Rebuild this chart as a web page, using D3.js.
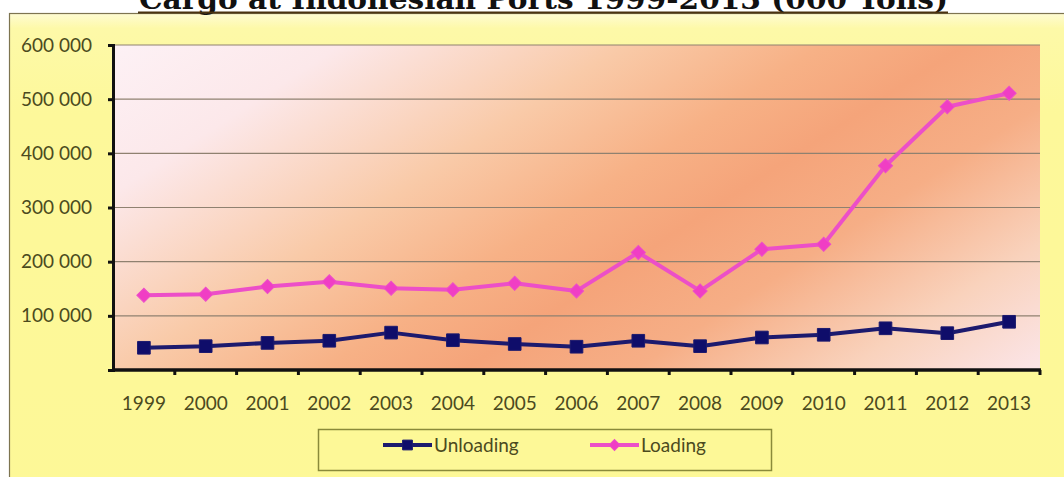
<!DOCTYPE html>
<html>
<head>
<meta charset="utf-8">
<script src="https://cdn.jsdelivr.net/npm/d3@7/dist/d3.min.js"></script>
<style>
  html, body { margin: 0; padding: 0; background: #ffffff; }
  svg { display: block; }
</style>
</head>
<body>
<svg id="chart" width="1064" height="477"></svg>
<script>
// Cargo handled at Indonesian ports, thousand tons
const years = ["1999","2000","2001","2002","2003","2004","2005","2006","2007","2008","2009","2010","2011","2012","2013"];
const unloading = [41000, 44000, 50000, 54000, 69000, 55000, 48000, 43000, 54000, 44000, 60000, 65000, 77000, 68000, 89000];
const loading   = [138000, 140000, 154000, 163000, 151000, 148000, 160000, 146000, 217000, 146000, 223000, 232000, 377000, 486000, 511000];
const yTicks = [0, 100000, 200000, 300000, 400000, 500000, 600000];
const seriesNames = ["Unloading", "Loading"];
const titleText = "Cargo at Indonesian Ports 1999-2013 (000 Tons)";

const svg = d3.select("#chart");
const defs = svg.append("defs");

// chart frame fill: pale yellow, lighter at the top edge
const frameGrad = defs.append("linearGradient").attr("id", "frameFill")
  .attr("x1", 0).attr("y1", 0).attr("x2", 0).attr("y2", 1);
[[0, "#fefbd2"], [0.03, "#fdf9a8"], [0.2, "#fdf89a"], [1, "#fdf897"]].forEach(([o, c]) =>
  frameGrad.append("stop").attr("offset", o).attr("stop-color", c));

const plot = { left: 113, right: 1040, top: 45, bottom: 370 };

// plot area fill: diagonal band of orange between pale pink corners
const bandX = 450, bandY = 370;
const ux = 324 / 596, uy = 500 / 596;
const plotGrad = defs.append("linearGradient").attr("id", "plotFill")
  .attr("gradientUnits", "userSpaceOnUse")
  .attr("x1", bandX - 455 * ux).attr("y1", bandY - 455 * uy)
  .attr("x2", bandX + 315 * ux).attr("y2", bandY + 315 * uy);
[[0, "#fdf1f5"], [0.16, "#fce8ea"], [0.36, "#f9caa8"], [0.5, "#f7b186"], [0.6, "#f5a47a"],
 [0.72, "#f6ae86"], [0.87, "#f9d2bc"], [1, "#fbe4e6"]].forEach(([o, c]) =>
  plotGrad.append("stop").attr("offset", o).attr("stop-color", c));

// outer chart frame
svg.append("rect")
  .attr("x", 9.5).attr("y", 13.5).attr("width", 1100).attr("height", 500)
  .attr("fill", "url(#frameFill)")
  .attr("stroke", "#7d7450").attr("stroke-width", 1.2);

// title with underline
svg.append("text")
  .attr("x", 139).attr("y", 9)
  .attr("textLength", 809).attr("lengthAdjust", "spacingAndGlyphs")
  .attr("font-family", "DejaVu Serif, serif")
  .attr("font-weight", "bold")
  .attr("font-size", 27)
  .attr("fill", "#111")
  .text(titleText);
svg.append("line")
  .attr("x1", 138).attr("x2", 948).attr("y1", 12.5).attr("y2", 12.5)
  .attr("stroke", "#4a3210").attr("stroke-width", 2);

// scales
const x = d3.scaleBand().domain(years).range([plot.left, plot.right]).padding(0);
const y = d3.scaleLinear().domain([0, 600000]).range([plot.bottom, plot.top]);
const cx = d => x(d) + x.bandwidth() / 2;

// plot background
svg.append("rect")
  .attr("x", plot.left).attr("y", plot.top)
  .attr("width", plot.right - plot.left).attr("height", plot.bottom - plot.top)
  .attr("fill", "url(#plotFill)");

// horizontal gridlines
svg.append("g")
  .selectAll("line")
  .data(yTicks.filter(v => v > 0))
  .join("line")
  .attr("x1", plot.left).attr("x2", plot.right)
  .attr("y1", d => y(d)).attr("y2", d => y(d))
  .attr("stroke", "#8f8170").attr("stroke-width", 1.2);

const labelFont = "Lato, 'Open Sans', sans-serif";
const labelColor = "#4b4a1e";

// y axis (zero is left unlabelled)
const yAxis = d3.axisLeft(y).tickValues(yTicks)
  .tickFormat(d => d === 0 ? "" : d3.format(",")(d).replace(/,/g, " "))
  .tickSize(5).tickPadding(14);
const gy = svg.append("g").attr("transform", `translate(${plot.left},0)`).call(yAxis);
gy.select(".domain").attr("stroke", "#111").attr("stroke-width", 3);
gy.selectAll(".tick line").attr("stroke", "#111").attr("stroke-width", 3);
gy.selectAll(".tick text")
  .attr("font-family", labelFont).attr("font-size", 19)
  .attr("fill", labelColor).attr("dx", -2);

// x axis: ticks sit on category boundaries
const gx = svg.append("g").attr("transform", `translate(0,${plot.bottom})`);
gx.append("line")
  .attr("x1", plot.left - 1).attr("x2", plot.right + 1)
  .attr("y1", 0).attr("y2", 0)
  .attr("stroke", "#111").attr("stroke-width", 3.5);
gx.selectAll(".xtick")
  .data(years)
  .join("line").attr("class", "xtick")
  .attr("x1", d => x(d) + x.bandwidth()).attr("x2", d => x(d) + x.bandwidth())
  .attr("y1", 0).attr("y2", 5)
  .attr("stroke", "#111").attr("stroke-width", 3);
gx.selectAll(".xlabel")
  .data(years)
  .join("text").attr("class", "xlabel")
  .attr("x", d => cx(d)).attr("y", 40)
  .attr("text-anchor", "middle")
  .attr("font-family", labelFont).attr("font-size", 19)
  .attr("fill", labelColor)
  .text(d => d);

// series: navy squares and pink diamonds (squares turned 45°)
const series = [
  { name: seriesNames[0], values: unloading, line: "#1c1a6e", fill: "#0f0d6a", rot: 0, size: 160, width: 4 },
  { name: seriesNames[1], values: loading,   line: "#ec4fc8", fill: "#f03ec4", rot: 45, size: 100, width: 4 }
];

const lineGen = d3.line().x(d => cx(d.year)).y(d => y(d.v));

series.slice().reverse().forEach(s => {
  const pts = years.map((yr, i) => ({ year: yr, v: s.values[i] }));
  svg.append("path")
    .datum(pts)
    .attr("d", lineGen)
    .attr("fill", "none")
    .attr("stroke", s.line)
    .attr("stroke-width", s.width)
    .attr("stroke-linejoin", "round");
  svg.append("g").selectAll("path")
    .data(pts)
    .join("path")
    .attr("transform", d => `translate(${cx(d.year)},${y(d.v)}) rotate(${s.rot})`)
    .attr("d", d3.symbol().type(d3.symbolSquare).size(s.size))
    .attr("fill", s.fill)
    .attr("stroke", s.line)
    .attr("stroke-width", 1);
});

// legend
const legend = svg.append("g");
legend.append("rect")
  .attr("x", 318.5).attr("y", 429.5).attr("width", 453).attr("height", 41)
  .attr("fill", "#fdf897").attr("stroke", "#8a8a3a").attr("stroke-width", 1.5);
const legendItems = [
  { s: series[0], x0: 383 },
  { s: series[1], x0: 590 }
];
legendItems.forEach(({ s, x0 }) => {
  const ly = 445;
  legend.append("line")
    .attr("x1", x0).attr("x2", x0 + 49).attr("y1", ly).attr("y2", ly)
    .attr("stroke", s.line).attr("stroke-width", s.width);
  legend.append("path")
    .attr("transform", `translate(${x0 + 24.5},${ly}) rotate(${s.rot})`)
    .attr("d", d3.symbol().type(d3.symbolSquare).size(s.size * 0.6))
    .attr("fill", s.fill).attr("stroke", s.line).attr("stroke-width", 1);
  legend.append("text")
    .attr("x", x0 + 51).attr("y", ly + 6.5)
    .attr("font-family", labelFont).attr("font-size", 19)
    .attr("fill", labelColor)
    .text(s.name);
});
</script>
</body>
</html>
